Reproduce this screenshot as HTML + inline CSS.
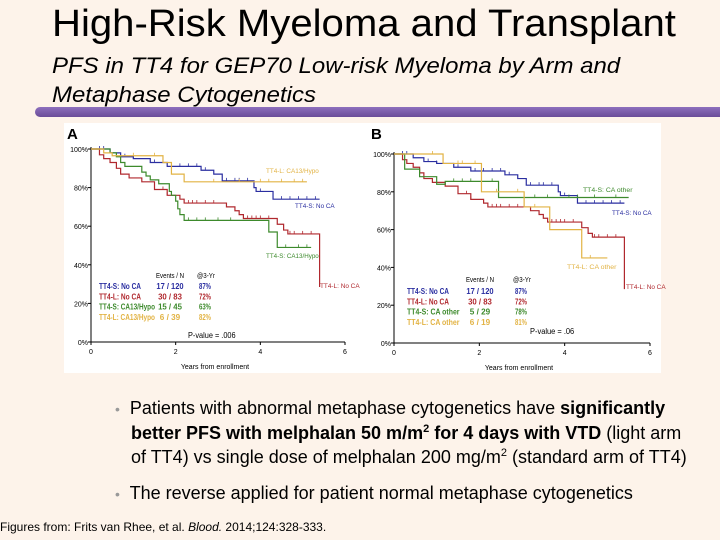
<!DOCTYPE html>
<html><head><meta charset="utf-8"><style>
body{margin:0;width:720px;height:540px;background:#fdf3ea;overflow:hidden;position:relative;font-family:"Liberation Sans",sans-serif}
.t{position:absolute;white-space:nowrap;color:#000}
sup{line-height:0;font-size:11px;vertical-align:7px}
</style></head><body>
<div class="t" style="left:52px;top:3px;font-size:38px;transform:scaleX(1.055);transform-origin:0 0">High-Risk Myeloma and Transplant</div>
<div class="t" style="left:52px;top:51px;font-size:22px;font-style:italic;line-height:29px;transform:scaleX(1.09);transform-origin:0 0">PFS in TT4 for GEP70 Low-risk Myeloma by Arm and<br>Metaphase Cytogenetics</div>
<div style="position:absolute;left:35px;top:107px;width:700px;height:10px;border-radius:5px;background:linear-gradient(#8d6fbd,#6a4c98)"></div>
<svg id="ch" width="720" height="540" style="position:absolute;left:0;top:0" font-family="'Liberation Sans',sans-serif"></svg>
<div class="t" style="left:115px;top:396px;font-size:18px;line-height:24px"><span style="color:#999;font-size:14px">•</span>&nbsp; Patients with abnormal metaphase cytogenetics have <b>significantly</b><br><span style="padding-left:16px"><b>better PFS with melphalan 50 m/m<sup>2</sup> for 4 days with VTD</b> (light arm</span><br><span style="padding-left:16px">of TT4) vs single dose of melphalan 200 mg/m<sup>2</sup> (standard arm of TT4)</span></div>
<div class="t" style="left:115px;top:481px;font-size:18px;line-height:24px"><span style="color:#999;font-size:14px">•</span>&nbsp; The reverse applied for patient normal metaphase cytogenetics</div>
<div class="t" style="left:0px;top:520px;font-size:12px">Figures from: Frits van Rhee, et al. <i>Blood.</i> 2014;124:328-333.</div>
<script>
// Panel A series [year, survival%]
const aBlue=[[0,100],[0.45,98],[0.7,96],[1.0,95],[1.4,93],[1.8,91],[2.6,89],[2.9,87],[3.1,83.5],[3.85,80],[3.9,78],[4.3,74],[5.4,74]];
const aRed=[[0,100],[0.2,97],[0.3,95],[0.45,93],[0.6,90],[0.7,87],[0.9,85],[1.2,83],[1.5,79],[1.8,76],[2.1,74],[2.2,72],[3.2,70],[3.4,68],[3.5,66],[3.6,64],[4.4,61],[4.55,58],[4.65,56],[5.4,56],[5.4,28.5]];
const aGreen=[[0,100],[0.45,98],[0.6,96],[0.7,93],[0.8,91],[1.2,88],[1.3,86],[1.4,84],[1.6,82],[1.85,78],[1.9,76],[2.0,73],[2.05,69],[2.1,66],[2.2,63],[4.2,57],[4.4,49],[5.2,49]];
const aOrange=[[0,100],[0.3,98],[0.5,96.5],[1.7,93],[1.9,87],[2.2,83],[5.1,83]];
// Panel B series
const bBlue=aBlue;
const bRed=aRed;
const bGreen=[[0,100],[0.25,92],[0.6,88],[1.0,84],[1.2,85.5],[2.45,77],[5.5,77]];
const bOrange=[[0,100],[1.15,95],[2.05,80],[3.05,72],[3.65,60],[4.4,45],[5.0,45]];
// censor marks (years)
const censBlue=[0.2,0.3,0.8,1.0,1.5,1.9,2.1,2.3,2.5,2.7,3.2,3.4,3.5,3.7,4.0,4.5,4.7,4.9,5.1,5.3];
const censRed=[1.7,1.8,2.3,2.4,2.5,2.7,2.9,3.7,3.8,3.9,4.0,4.2,4.7,4.8,5.0,5.2];
const censGreenA=[1.9,2.3,2.5,2.7,3.0,3.3,4.6,4.9,5.1];
const censOrangeA=[1.0,1.5,2.9,3.5,4.0,4.2,4.5,4.8,5.0];
const censGreenB=[0.6,1.4,1.6,1.8,2.3,3.3,3.6,4.1,4.3,4.7,5.2];
const censOrangeB=[0.9,1.5,1.6,1.9,2.4,2.9,3.3,4.6];
const yTicks=[0,20,40,60,80,100];
const xTicks=[0,2,4,6];
const C={blue:'#2a2ea0',red:'#b0282e',green:'#3d8a2c',orange:'#e2b344'};
const legendA=[["TT4-S: No CA","17 / 120","87%",'blue'],["TT4-L: No CA","30 / 83","72%",'red'],["TT4-S: CA13/Hypo","15 / 45","63%",'green'],["TT4-L: CA13/Hypo","6 / 39","82%",'orange']];
const legendB=[["TT4-S: No CA","17 / 120","87%",'blue'],["TT4-L: No CA","30 / 83","72%",'red'],["TT4-S: CA other","5 / 29","78%",'green'],["TT4-L: CA other","6 / 19","81%",'orange']];

const svg=document.getElementById('ch');const NS='http://www.w3.org/2000/svg';
function mk(tag,at,txt){const e=document.createElementNS(NS,tag);for(const k in at)e.setAttribute(k,at[k]);if(txt!=null)e.textContent=txt;svg.appendChild(e);return e;}
const bg=mk('rect',{x:64,y:123,width:597,height:250,fill:'#fff'});


function fit(el,w){el.setAttribute('textLength',w);el.setAttribute('lengthAdjust','spacingAndGlyphs');}

function panel(P){
  const sx=v=>P.x0+(P.x1-P.x0)*v/6, sy=v=>P.y0+(P.y1-P.y0)*v/100;
  const l=mk('text',{x:P.lx,y:P.ly,'font-size':15,'font-weight':'bold'},P.letter);
  
  
  const ax=mk('path',{d:`M${sx(0)},${sy(100)-2}V${sy(0)}H${sx(6)}`,stroke:'#000',fill:'none','stroke-width':1});
  
  
  yTicks.forEach(v=>{
    mk('line',{x1:sx(0)-3,x2:sx(0),y1:sy(v),y2:sy(v),stroke:'#000'});
    const t=mk('text',{x:sx(0)-3,y:sy(v)+3,'font-size':7,'text-anchor':'end'},v+'%');
    
    
  });
  xTicks.forEach(v=>{
    mk('line',{x1:sx(v),x2:sx(v),y1:sy(0),y2:sy(0)+3,stroke:'#000'});
    const t=mk('text',{x:sx(v),y:sy(0)+12,'font-size':7,'text-anchor':'middle'},v);
    
    
  });
  const xt=mk('text',{x:(sx(0)+sx(6))/2-3,y:sy(0)+27,'font-size':7,'text-anchor':'middle'},'Years from enrollment');
  
  
  P.series.forEach(s=>{
    let d=`M${sx(s.data[0][0])},${sy(s.data[0][1])}`;
    for(let i=1;i<s.data.length;i++){d+=`H${sx(s.data[i][0])}V${sy(s.data[i][1])}`;}
    const p=mk('path',{d:d,stroke:C[s.c],fill:'none','stroke-width':1.2});
    
    
    s.cens.forEach(t=>{
      let v=s.data[0][1];for(const q of s.data){if(q[0]<=t)v=q[1];}
      const m=mk('line',{x1:sx(t),x2:sx(t),y1:sy(v)-3,y2:sy(v),stroke:C[s.c],'stroke-width':0.8});
      
      
    });
    const lb=mk('text',{x:s.lx,y:s.ly,'font-size':6.5,fill:C[s.c]},s.label);
    fit(lb,s.label.length*3.3);
    
    
  });
  const h1=mk('text',{x:P.ec-14,y:P.hy,'font-size':7.5},'Events / N');
  fit(h1,28);
  
  
  const h2=mk('text',{x:P.pc-8,y:P.hy,'font-size':7.5},'@3-Yr');
  fit(h2,18);
  
  
  P.legend.forEach((r,i)=>{
    const y=P.ry+i*P.rs;
    const a=mk('text',{x:P.lgx,y:y,'font-size':8,'font-weight':'bold',fill:C[r[3]]},r[0]);
    fit(a,r[0].length*3.5);
    
    
    const b=mk('text',{x:P.ec-(r[1].length*3.4)/2,y:y,'font-size':8,'font-weight':'bold',fill:C[r[3]]},r[1]);
    fit(b,r[1].length*3.4);
    const c=mk('text',{x:P.pc-6,y:y,'font-size':8,'font-weight':'bold',fill:C[r[3]]},r[2]);
    fit(c,12);
  });
  const pv=mk('text',{x:P.pvx,y:P.pvy,'font-size':8},P.pv);
  fit(pv,P.pv.length*3.4);
  
  
}
panel({id:'a',letter:'A',lx:67,ly:139,x0:91,x1:345,y0:342,y1:149,ec:170,pc:205,hy:278,lgx:99,ry:289,rs:10.3,pvx:188,pvy:338,pv:'P-value = .006',legend:legendA,series:[
 {name:'tt4s-noca',data:aBlue,c:'blue',cens:censBlue,label:'TT4-S: No CA',lx:295,ly:208},
 {name:'tt4l-noca',data:aRed,c:'red',cens:censRed,label:'TT4-L: No CA',lx:320,ly:288},
 {name:'tt4s-ca13',data:aGreen,c:'green',cens:censGreenA,label:'TT4-S: CA13/Hypo',lx:266,ly:258},
 {name:'tt4l-ca13',data:aOrange,c:'orange',cens:censOrangeA,label:'TT4-L: CA13/Hypo',lx:266,ly:173}]});
panel({id:'b',letter:'B',lx:371,ly:139,x0:394,x1:650,y0:343,y1:154,ec:480,pc:521,hy:282,lgx:407,ry:294,rs:10.3,pvx:530,pvy:334,pv:'P-value = .06',legend:legendB,series:[
 {name:'tt4s-noca',data:bBlue,c:'blue',cens:censBlue,label:'TT4-S: No CA',lx:612,ly:215},
 {name:'tt4l-noca',data:bRed,c:'red',cens:censRed,label:'TT4-L: No CA',lx:626,ly:289},
 {name:'tt4s-caother',data:bGreen,c:'green',cens:censGreenB,label:'TT4-S: CA other',lx:583,ly:192},
 {name:'tt4l-caother',data:bOrange,c:'orange',cens:censOrangeB,label:'TT4-L: CA other',lx:567,ly:269}]});
</script>
</body></html>
